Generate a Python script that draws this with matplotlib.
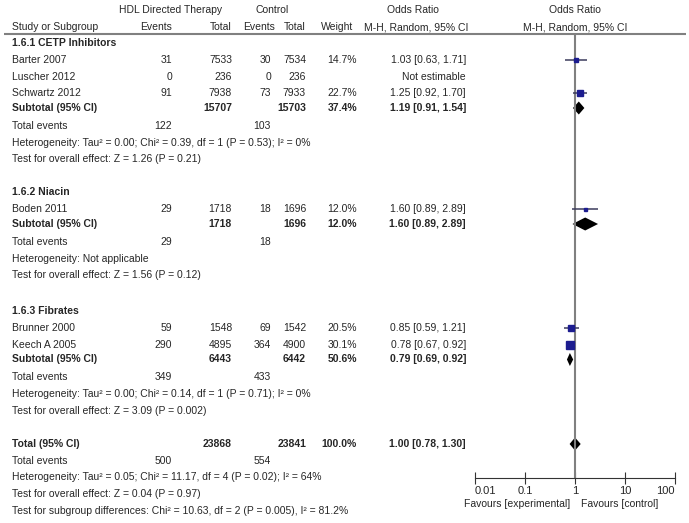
import matplotlib
matplotlib.use("Agg")
import matplotlib.pyplot as plt
import numpy as np

plt.rcParams['font.family'] = ['Liberation Sans', 'DejaVu Sans']
plt.rcParams['font.size'] = 7.5

# ---- data ----
studies = ['Barter 2007', 'Luscher 2012', 'Schwartz 2012', 'Boden 2011', 'Brunner 2000', 'Keech A 2005']
exp_events = [31, 0, 91, 29, 59, 290]
exp_total = [7533, 236, 7938, 1718, 1548, 4895]
ctl_events = [30, 0, 73, 18, 69, 364]
ctl_total = [7534, 236, 7933, 1696, 1542, 4900]
weights = [14.7, np.nan, 22.7, 12.0, 20.5, 30.1]
odds = [1.03, np.nan, 1.25, 1.60, 0.85, 0.78]
ci_lo = [0.63, np.nan, 0.92, 0.89, 0.59, 0.67]
ci_hi = [1.71, np.nan, 1.70, 2.89, 1.21, 0.92]

groups = ['1.6.1 CETP Inhibitors', '1.6.2 Niacin', '1.6.3 Fibrates']
group_members = [[0, 1, 2], [3], [4, 5]]
sub_exp_total = [15707, 1718, 6443]
sub_ctl_total = [15703, 1696, 6442]
sub_weight = [37.4, 12.0, 50.6]
sub_odds = [1.19, 1.60, 0.79]
sub_lo = [0.91, 0.89, 0.69]
sub_hi = [1.54, 2.89, 0.92]
sub_exp_events = [122, 29, 349]
sub_ctl_events = [103, 18, 433]
sub_het = ['Tau\u00b2 = 0.00; Chi\u00b2 = 0.39, df = 1 (P = 0.53); I\u00b2 = 0%',
           'Not applicable',
           'Tau\u00b2 = 0.00; Chi\u00b2 = 0.14, df = 1 (P = 0.71); I\u00b2 = 0%']
sub_z = ['Z = 1.26 (P = 0.21)', 'Z = 1.56 (P = 0.12)', 'Z = 3.09 (P = 0.002)']

tot_exp_total, tot_ctl_total = 23868, 23841
tot_odds, tot_lo, tot_hi = 1.00, 0.78, 1.30
tot_exp_events, tot_ctl_events = 500, 554
tot_het = 'Tau\u00b2 = 0.05; Chi\u00b2 = 11.17, df = 4 (P = 0.02); I\u00b2 = 64%'
tot_z = 'Z = 0.04 (P = 0.97)'
subgroup_test = 'Chi\u00b2 = 10.63, df = 2 (P = 0.005), I\u00b2 = 81.2%'

ticks = [0.01, 0.1, 1, 10, 100]
tick_labels = ['0.01', '0.1', '1', '10', '100']

# ---- layout ----
txt = '#262626'
sq_col = '#1c1c8f'
ci_col = '#3c3c5c'
grey = '#808080'

# column right edges (pixels)
c_study = 12
c_ee, c_et, c_ce, c_ct, c_w, c_or = 172, 232, 271, 306, 357, 466

fig = plt.figure(figsize=(6.89, 5.23), dpi=100)
ax = fig.add_axes([0, 0, 1, 1])
ax.set_xlim(0, 689)
ax.set_ylim(523, 0)
ax.axis('off')

fx = fig.add_axes([475 / 689, 0, 200 / 689, 1])
fx.set_xscale('log')
fx.set_xlim(0.01, 100)
fx.set_ylim(523, 0)
fx.patch.set_visible(False)
for s in ['top', 'left', 'right']:
    fx.spines[s].set_visible(False)
axis_y = 478
fx.spines['bottom'].set_position(('data', axis_y))
fx.spines['bottom'].set_color('#333333')
fx.set_yticks([])
fx.set_xticks(ticks)
fx.set_xticklabels(tick_labels, color=txt, fontsize=8)
fx.minorticks_off()
fx.tick_params(axis='x', direction='inout', length=9, pad=1, color='#333333')
lbls = fx.get_xticklabels()
lbls[0].set_ha('left')
lbls[-1].set_ha('right')

# headers
ax.text(171, 10, 'HDL Directed Therapy', ha='center', va='center', color=txt)
ax.text(272, 10, 'Control', ha='center', va='center', color=txt)
ax.text(413, 10, 'Odds Ratio', ha='center', va='center', color=txt)
ax.text(575, 10, 'Odds Ratio', ha='center', va='center', color=txt)
hy = 27
ax.text(c_study, hy, 'Study or Subgroup', ha='left', va='center', color=txt)
ax.text(c_ee, hy, 'Events', ha='right', va='center', color=txt)
ax.text(c_et, hy, 'Total', ha='right', va='center', color=txt)
ax.text(c_ce + 4, hy, 'Events', ha='right', va='center', color=txt)
ax.text(c_ct, hy, 'Total', ha='right', va='center', color=txt)
ax.text(c_w - 4, hy, 'Weight', ha='right', va='center', color=txt)
ax.text(416, hy, 'M-H, Random, 95% CI', ha='center', va='center', color=txt)
ax.text(575, hy, 'M-H, Random, 95% CI', ha='center', va='center', color=txt)
ax.hlines(34, 4, 686, color=grey, lw=1.5)

fx.vlines(1, 34, axis_y, color=grey, lw=1.5)


def diamond(y, est, lo, hi, h=6.5):
    fx.fill([lo, est, hi, est], [y, y - h, y, y + h], color='black', lw=0)


y_head = [43, 192, 311]
for g, name in enumerate(groups):
    y = y_head[g]
    ax.text(c_study, y, name, ha='left', va='center', color=txt, fontweight='bold')
    y += 17
    for i in group_members[g]:
        ax.text(c_study, y, studies[i], ha='left', va='center', color=txt)
        ax.text(c_ee, y, str(exp_events[i]), ha='right', va='center', color=txt)
        ax.text(c_et, y, str(exp_total[i]), ha='right', va='center', color=txt)
        ax.text(c_ce, y, str(ctl_events[i]), ha='right', va='center', color=txt)
        ax.text(c_ct, y, str(ctl_total[i]), ha='right', va='center', color=txt)
        if np.isnan(odds[i]):
            ax.text(c_or, y, 'Not estimable', ha='right', va='center', color=txt)
        else:
            ax.text(c_w, y, f'{weights[i]:.1f}%', ha='right', va='center', color=txt)
            ax.text(c_or, y, f'{odds[i]:.2f} [{ci_lo[i]:.2f}, {ci_hi[i]:.2f}]',
                    ha='right', va='center', color=txt)
            fx.hlines(y, ci_lo[i], ci_hi[i], color=ci_col, lw=1.1)
            fx.plot(odds[i], y, 's', ms=weights[i] * 0.18, color=sq_col, mec=sq_col)
        y += 16.5
    y -= 1.5
    ax.text(c_study, y, 'Subtotal (95% CI)', ha='left', va='center', color=txt, fontweight='bold')
    ax.text(c_et, y, str(sub_exp_total[g]), ha='right', va='center', color=txt, fontweight='bold')
    ax.text(c_ct, y, str(sub_ctl_total[g]), ha='right', va='center', color=txt, fontweight='bold')
    ax.text(c_w, y, f'{sub_weight[g]:.1f}%', ha='right', va='center', color=txt, fontweight='bold')
    ax.text(c_or, y, f'{sub_odds[g]:.2f} [{sub_lo[g]:.2f}, {sub_hi[g]:.2f}]',
            ha='right', va='center', color=txt, fontweight='bold')
    diamond(y, sub_odds[g], sub_lo[g], sub_hi[g])
    y += 18
    ax.text(c_study, y, 'Total events', ha='left', va='center', color=txt)
    ax.text(c_ee, y, str(sub_exp_events[g]), ha='right', va='center', color=txt)
    ax.text(c_ce, y, str(sub_ctl_events[g]), ha='right', va='center', color=txt)
    y += 16.5
    ax.text(c_study, y, 'Heterogeneity: ' + sub_het[g], ha='left', va='center', color=txt)
    y += 16.5
    ax.text(c_study, y, 'Test for overall effect: ' + sub_z[g], ha='left', va='center', color=txt)

y = 444
ax.text(c_study, y, 'Total (95% CI)', ha='left', va='center', color=txt, fontweight='bold')
ax.text(c_et, y, str(tot_exp_total), ha='right', va='center', color=txt, fontweight='bold')
ax.text(c_ct, y, str(tot_ctl_total), ha='right', va='center', color=txt, fontweight='bold')
ax.text(c_w, y, '100.0%', ha='right', va='center', color=txt, fontweight='bold')
ax.text(c_or, y, f'{tot_odds:.2f} [{tot_lo:.2f}, {tot_hi:.2f}]',
        ha='right', va='center', color=txt, fontweight='bold')
diamond(y, tot_odds, tot_lo, tot_hi)
y += 17
ax.text(c_study, y, 'Total events', ha='left', va='center', color=txt)
ax.text(c_ee, y, str(tot_exp_events), ha='right', va='center', color=txt)
ax.text(c_ce, y, str(tot_ctl_events), ha='right', va='center', color=txt)
y += 16.5
ax.text(c_study, y, 'Heterogeneity: ' + tot_het, ha='left', va='center', color=txt)
y += 16.5
ax.text(c_study, y, 'Test for overall effect: ' + tot_z, ha='left', va='center', color=txt)
y += 16.5
ax.text(c_study, y, 'Test for subgroup differences: ' + subgroup_test, ha='left', va='center', color=txt)

ax.text(570, 504, 'Favours [experimental]', ha='right', va='center', color=txt)
ax.text(581, 504, 'Favours [control]', ha='left', va='center', color=txt)

fig.savefig('out.png', dpi=100)
